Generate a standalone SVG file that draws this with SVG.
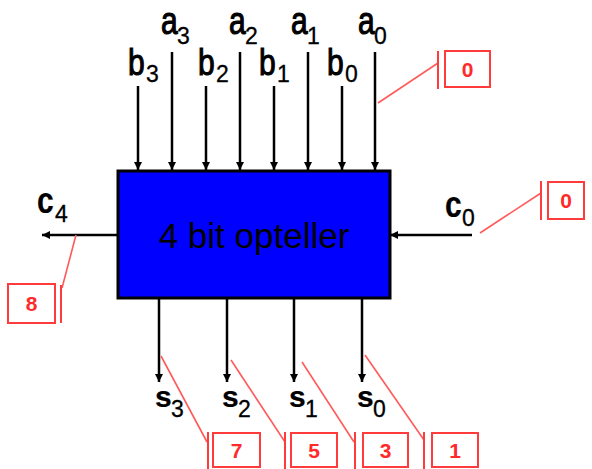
<svg xmlns="http://www.w3.org/2000/svg" width="592" height="469" viewBox="0 0 592 469">
<style>
.w{stroke:#000;stroke-width:2.5;fill:none;marker-end:url(#ah)}
.lb{font-family:"Liberation Sans",Arial,sans-serif;font-size:30px;fill:#000;stroke:#000;stroke-width:0.9}
.bd{font-weight:bold;stroke-width:0.2}
.sb{font-family:"Liberation Sans",Arial,sans-serif;font-size:23px;fill:#000;stroke:#000;stroke-width:0.3}
.rb{fill:#fff;stroke:#ff3b3b;stroke-width:2}
.rbar{stroke:#ff3b3b;stroke-width:2}
.rl{stroke:#ff5a5a;stroke-width:1.6;fill:none}
.rt{font-family:"Liberation Sans",Arial,sans-serif;font-weight:bold;font-size:21px;fill:#ff2a2a;text-anchor:middle}
</style>
<defs>
<marker id="ah" viewBox="0 0 10 10" refX="10" refY="5" markerWidth="3.2" markerHeight="3.2" orient="auto" markerUnits="strokeWidth">
<path d="M0,0 L10,5 L0,10 z" fill="#000"/>
</marker>
</defs>
<g id="connectors">
<line class="w" x1="138" y1="86" x2="138" y2="170"/>
<line class="w" x1="172" y1="52" x2="172" y2="170"/>
<line class="w" x1="206" y1="86" x2="206" y2="170"/>
<line class="w" x1="240" y1="52" x2="240" y2="170"/>
<line class="w" x1="274" y1="86" x2="274" y2="170"/>
<line class="w" x1="308" y1="52" x2="308" y2="170"/>
<line class="w" x1="342" y1="86" x2="342" y2="170"/>
<line class="w" x1="375" y1="52" x2="375" y2="170"/>
<line class="w" x1="159" y1="298" x2="159" y2="382"/>
<line class="w" x1="227" y1="298" x2="227" y2="382"/>
<line class="w" x1="294" y1="298" x2="294" y2="382"/>
<line class="w" x1="362" y1="298" x2="362" y2="382"/>
<line class="w" x1="118" y1="235" x2="42" y2="235"/>
<line class="w" x1="472" y1="235" x2="390" y2="235"/>
</g>
<g id="adder">
<rect x="118" y="171" width="272" height="127" fill="#0000ff" stroke="#000" stroke-width="3"/>
<text x="254" y="248" text-anchor="middle" font-family="'Liberation Sans',Arial,sans-serif" font-size="35" fill="#000">4 bit opteller</text>
</g>
<g id="labels">
<text class="lb" font-size="28" transform="matrix(1 0 0 1.3 161 34)">a</text><text class="sb" x="177" y="44">3</text>
<text class="lb" font-size="28" transform="matrix(1 0 0 1.3 229 34)">a</text><text class="sb" x="245" y="44">2</text>
<text class="lb" font-size="28" transform="matrix(1 0 0 1.3 291 34)">a</text><text class="sb" x="307" y="44">1</text>
<text class="lb" font-size="28" transform="matrix(1 0 0 1.3 358 34)">a</text><text class="sb" x="374" y="44">0</text>
<text class="lb" font-size="31" transform="matrix(1 0 0 1.25 128 75)">b</text><text class="sb" x="146" y="82">3</text>
<text class="lb" font-size="31" transform="matrix(1 0 0 1.25 198 75)">b</text><text class="sb" x="216" y="82">2</text>
<text class="lb" font-size="31" transform="matrix(1 0 0 1.25 259 75)">b</text><text class="sb" x="277" y="82">1</text>
<text class="lb" font-size="31" transform="matrix(1 0 0 1.25 327 75)">b</text><text class="sb" x="345" y="82">0</text>
<text class="lb bd" font-size="31" transform="matrix(1 0 0 1.2 37 213)">c</text><text class="sb" x="55" y="222">4</text>
<text class="lb bd" font-size="31" transform="matrix(1 0 0 1.2 445 217)">c</text><text class="sb" x="462" y="226">0</text>
<text class="lb bd" font-size="29" x="155" y="407">s</text><text class="sb" font-size="22" x="171" y="417">3</text>
<text class="lb bd" font-size="29" x="222" y="407">s</text><text class="sb" font-size="22" x="238" y="417">2</text>
<text class="lb bd" font-size="29" x="289" y="407">s</text><text class="sb" font-size="22" x="305" y="417">1</text>
<text class="lb bd" font-size="29" x="357" y="407">s</text><text class="sb" font-size="22" x="373" y="417">0</text>
</g>
<g id="ann-a0">
<line class="rl" x1="378" y1="103" x2="438" y2="63"/>
<line class="rbar" x1="438" y1="51" x2="438" y2="89"/>
<rect class="rb" x="445" y="51" width="45" height="36"/>
<text class="rt" x="467.5" y="77">0</text>
</g>
<g id="ann-c0">
<line class="rl" x1="480" y1="233" x2="541" y2="193"/>
<line class="rbar" x1="541" y1="181" x2="541" y2="220"/>
<rect class="rb" x="548" y="182" width="36" height="37"/>
<text class="rt" x="566" y="208">0</text>
</g>
<g id="ann-c4">
<line class="rl" x1="76" y1="235" x2="62" y2="288"/>
<line class="rbar" x1="61" y1="285" x2="61" y2="323"/>
<rect class="rb" x="8" y="284" width="47" height="39"/>
<text class="rt" x="31.5" y="311">8</text>
</g>
<g id="ann-s3">
<line class="rl" x1="161" y1="356" x2="207" y2="442"/>
<line class="rbar" x1="208" y1="432" x2="208" y2="469"/>
<rect class="rb" x="213" y="433" width="47" height="34"/>
<text class="rt" x="236.5" y="458">7</text>
</g>
<g id="ann-s2">
<line class="rl" x1="231" y1="360" x2="285" y2="442"/>
<line class="rbar" x1="285" y1="432" x2="285" y2="469"/>
<rect class="rb" x="291" y="433" width="46" height="34"/>
<text class="rt" x="314" y="458">5</text>
</g>
<g id="ann-s1">
<line class="rl" x1="302" y1="362" x2="354" y2="442"/>
<line class="rbar" x1="355" y1="432" x2="355" y2="469"/>
<rect class="rb" x="363" y="433" width="45" height="34"/>
<text class="rt" x="385.5" y="458">3</text>
</g>
<g id="ann-s0">
<line class="rl" x1="365" y1="355" x2="424" y2="440"/>
<line class="rbar" x1="424" y1="432" x2="424" y2="469"/>
<rect class="rb" x="432" y="433" width="46" height="34"/>
<text class="rt" x="455" y="458">1</text>
</g>
</svg>
